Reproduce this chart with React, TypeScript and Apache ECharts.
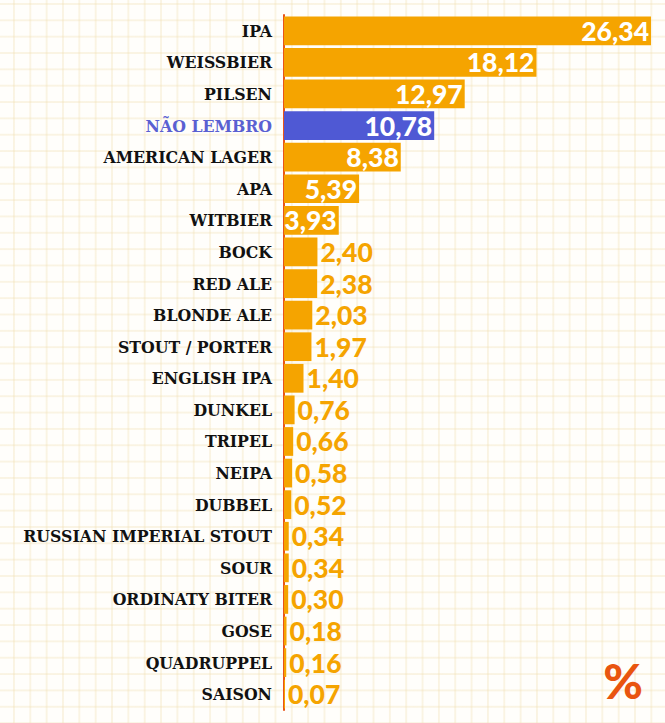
import React, { useEffect, useRef } from "react";
import * as echarts from "echarts";

// Beer styles and their share of answers (%)
const categories = [
  "IPA",
  "WEISSBIER",
  "PILSEN",
  "NÃO LEMBRO",
  "AMERICAN LAGER",
  "APA",
  "WITBIER",
  "BOCK",
  "RED ALE",
  "BLONDE ALE",
  "STOUT / PORTER",
  "ENGLISH IPA",
  "DUNKEL",
  "TRIPEL",
  "NEIPA",
  "DUBBEL",
  "RUSSIAN IMPERIAL STOUT",
  "SOUR",
  "ORDINATY BITER",
  "GOSE",
  "QUADRUPPEL",
  "SAISON",
];

const values = [
  26.34, 18.12, 12.97, 10.78, 8.38, 5.39, 3.93, 2.4, 2.38, 2.03, 1.97, 1.4,
  0.76, 0.66, 0.58, 0.52, 0.34, 0.34, 0.3, 0.18, 0.16, 0.07,
];

const highlightCategory = "NÃO LEMBRO";
const insideLabelMin = 3.5;

const ORANGE = "#F5A400";
const BLUE = "#4F59D4";
const BLUE_TEXT = "#5A60D2";
const AXIS_RED = "#E8541A";

const fmt = (v: number) => v.toFixed(2).replace(".", ",");

export default function App() {
  const ref = useRef<HTMLDivElement>(null);

  useEffect(() => {
    if (!ref.current) return;
    const chart = echarts.init(ref.current, null, { renderer: "svg" });

    const data = values.map((v, i) => {
      const isHighlight = categories[i] === highlightCategory;
      const inside = v >= insideLabelMin;
      return {
        value: v,
        itemStyle: { color: isHighlight ? BLUE : ORANGE },
        label: {
          position: inside ? "insideRight" : "right",
          distance: inside ? 2 : 3,
          color: inside ? "#FFFFFF" : ORANGE,
        },
      };
    });

    chart.setOption({
      animation: false,
      grid: { left: 284, right: 14, top: 15, height: 695, containLabel: false },
      xAxis: {
        type: "value",
        min: 0,
        max: 26.34,
        show: false,
      },
      yAxis: {
        type: "category",
        data: categories,
        inverse: true,
        axisLine: { show: true, lineStyle: { color: AXIS_RED, width: 2 } },
        axisTick: { show: false },
        splitLine: { show: false },
        axisLabel: {
          margin: 12,
          fontFamily: "DejaVu Serif Condensed, DejaVu Serif",
          fontWeight: "bold",
          fontSize: 17.5,
          color: (value: string) =>
            value === highlightCategory ? BLUE_TEXT : "#111111",
        },
      },
      series: [
        {
          type: "bar",
          data,
          barCategoryGap: "9%",
          label: {
            show: true,
            fontFamily: "Lato",
            fontWeight: 900,
            fontSize: 26.5,
            formatter: (p: any) => fmt(p.value),
          },
        },
      ],
      graphic: [
        {
          type: "text",
          right: 22,
          top: 656,
          style: {
            text: "%",
            fontFamily: "Lato",
            fontWeight: 900,
            fontSize: 48,
            fill: "#E9550F",
          },
        },
      ],
    });

    return () => chart.dispose();
  }, []);

  const gridLine = "rgba(240, 222, 175, 0.32)";
  return (
    <div
      ref={ref}
      style={{
        position: "absolute",
        left: 0,
        top: 0,
        width: 665,
        height: 723,
        backgroundColor: "#FFFEFB",
        backgroundImage: `linear-gradient(to right, ${gridLine} 1.5px, transparent 1.5px), linear-gradient(to bottom, ${gridLine} 1.5px, transparent 1.5px)`,
        backgroundSize: "16.35px 16.35px",
        backgroundPosition: "13px 3px",
      }}
    />
  );
}
